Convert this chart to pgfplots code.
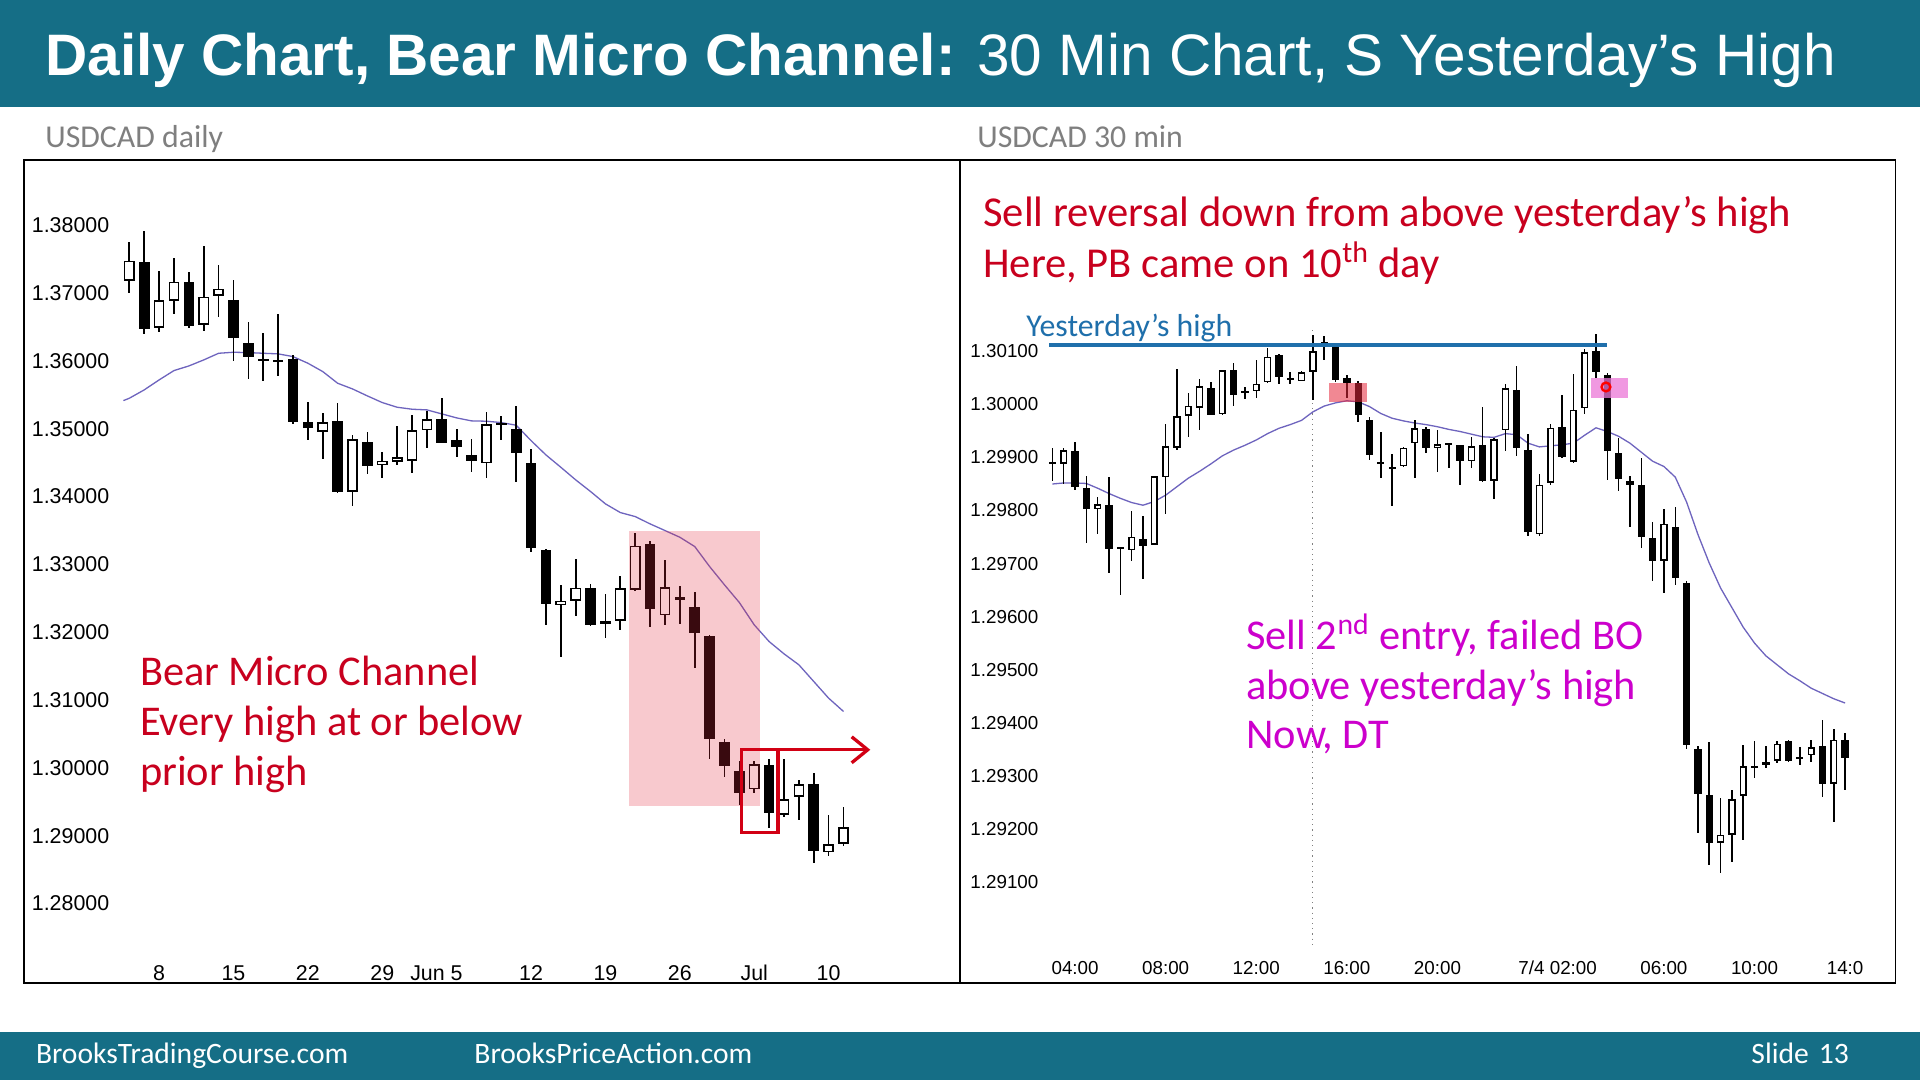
\documentclass[border=0pt]{standalone}
\usepackage{fontspec}
\setmainfont{Carlito}
\newfontfamily\arial{Liberation Sans}
\usepackage{pgfplots}
\pgfplotsset{compat=1.18}
\usepackage{pgfplotstable}
\usetikzlibrary{arrows.meta}

\definecolor{teal1}{HTML}{156E86}
\definecolor{annred}{HTML}{C8001E}
\definecolor{annmag}{HTML}{CC00CC}
\definecolor{yhblue}{HTML}{1F6FAB}
\definecolor{maline}{HTML}{6E64BE}
\definecolor{boxred}{HTML}{D20014}
\definecolor{pinkred}{HTML}{E6283C}
\definecolor{orchidc}{HTML}{EB78D7}
\definecolor{gray50}{HTML}{7F7F7F}

\pgfplotstableread{
x O H L C
1 1.37464 1.37921 1.36398 1.36467
4 1.37160 1.37307 1.36482 1.36521
7 1.36904 1.37199 1.36005 1.36339
8 1.36266 1.36575 1.35740 1.36054
9 1.36025 1.36408 1.35705 1.36000
10 1.36010 1.36688 1.35779 1.35985
11 1.36025 1.36084 1.35072 1.35101
12 1.35101 1.35391 1.34836 1.35008
14 1.35121 1.35386 1.34049 1.34064
16 1.34801 1.34958 1.34330 1.34457
21 1.35145 1.35450 1.34796 1.34796
22 1.34836 1.34998 1.34590 1.34723
23 1.34610 1.34846 1.34369 1.34526
25 1.35091 1.35194 1.34836 1.35057
26 1.34993 1.35342 1.34221 1.34639
27 1.34491 1.34698 1.33189 1.33238
28 1.33214 1.33230 1.32108 1.32418
31 1.32658 1.32713 1.32098 1.32108
35 1.33303 1.33351 1.32084 1.32349
37 1.32526 1.32683 1.32123 1.32477
38 1.32379 1.32600 1.31470 1.31985
39 1.31946 1.31961 1.30128 1.30423
40 1.30388 1.30423 1.29863 1.30030
41 1.29961 1.30094 1.29455 1.29627
43 1.30045 1.30133 1.29111 1.29332
46 1.29760 1.29922 1.28595 1.28767
}\dailybear

\pgfplotstableread{
x O H L C
0 1.37180 1.37749 1.36998 1.37479
2 1.36491 1.37327 1.36423 1.36899
3 1.36890 1.37518 1.36693 1.37170
5 1.36531 1.37695 1.36447 1.36948
6 1.36958 1.37410 1.36644 1.37066
13 1.34959 1.35239 1.34551 1.35096
15 1.34074 1.34909 1.33868 1.34845
17 1.34467 1.34654 1.34271 1.34531
18 1.34516 1.35047 1.34467 1.34580
19 1.34531 1.35204 1.34344 1.34978
20 1.34983 1.35263 1.34713 1.35140
24 1.34492 1.35248 1.34271 1.35067
29 1.32398 1.32698 1.31641 1.32467
30 1.32462 1.33076 1.32241 1.32658
32 1.32128 1.32560 1.31912 1.32167
33 1.32167 1.32835 1.32035 1.32649
34 1.32624 1.33459 1.32614 1.33278
36 1.32251 1.33066 1.32108 1.32664
42 1.29686 1.30104 1.29637 1.30055
44 1.29308 1.30133 1.29283 1.29539
45 1.29578 1.29823 1.29224 1.29760
47 1.28752 1.29308 1.28693 1.28875
48 1.28880 1.29430 1.28841 1.29121
}\dailybull

\pgfplotstableread{
x v
-0.4 1.35415
0 1.35450
1 1.35573
2 1.35720
3 1.35858
4 1.35926
5 1.36015
6 1.36113
7 1.36128
8 1.36123
9 1.36113
10 1.36104
11 1.36064
12 1.35966
13 1.35843
14 1.35671
15 1.35587
16 1.35484
17 1.35386
18 1.35317
19 1.35288
20 1.35278
21 1.35219
22 1.35160
23 1.35116
24 1.35111
25 1.35091
26 1.35052
27 1.34825
28 1.34614
29 1.34432
30 1.34246
31 1.34074
32 1.33892
33 1.33764
34 1.33705
35 1.33597
36 1.33499
37 1.33400
38 1.33263
39 1.32968
40 1.32698
41 1.32437
42 1.32108
43 1.31862
44 1.31681
45 1.31519
46 1.31273
47 1.31027
48 1.30831
}\dailyma

\pgfplotstableread{
x O H L C
-1.0 1.29893 1.29919 1.29858 1.29889
0.0 1.29914 1.29930 1.29840 1.29845
0.5 1.29843 1.29866 1.29740 1.29804
1.5 1.29810 1.29864 1.29682 1.29727
2.0 1.29731 1.29731 1.29641 1.29727
3.0 1.29746 1.29790 1.29672 1.29734
6.0 1.30032 1.30043 1.29981 1.29981
7.0 1.30065 1.30079 1.29999 1.30018
7.5 1.30026 1.30034 1.30012 1.30022
9.0 1.30094 1.30096 1.30041 1.30052
9.5 1.30050 1.30062 1.30041 1.30046
11.5 1.30109 1.30109 1.30043 1.30046
12.0 1.30050 1.30057 1.30012 1.30041
12.5 1.30040 1.30045 1.29968 1.29980
13.0 1.29972 1.29976 1.29895 1.29905
13.5 1.29891 1.29949 1.29862 1.29887
14.0 1.29883 1.29909 1.29810 1.29879
15.5 1.29953 1.29958 1.29909 1.29917
16.5 1.29929 1.29929 1.29881 1.29925
17.0 1.29924 1.29924 1.29850 1.29894
18.0 1.29924 1.29996 1.29854 1.29856
19.5 1.30029 1.30073 1.29903 1.29919
20.0 1.29915 1.29944 1.29752 1.29760
21.5 1.29958 1.30019 1.29900 1.29900
23.0 1.30102 1.30134 1.30051 1.30062
23.5 1.30057 1.30059 1.29857 1.29913
24.0 1.29909 1.29938 1.29839 1.29861
24.5 1.29857 1.29866 1.29770 1.29849
25.0 1.29848 1.29900 1.29731 1.29750
25.5 1.29748 1.29779 1.29668 1.29705
26.5 1.29770 1.29808 1.29661 1.29673
27.0 1.29663 1.29669 1.29351 1.29358
27.5 1.29351 1.29356 1.29193 1.29267
28.0 1.29265 1.29364 1.29132 1.29174
30.0 1.29320 1.29366 1.29297 1.29316
30.5 1.29325 1.29356 1.29314 1.29321
31.5 1.29366 1.29368 1.29327 1.29329
33.0 1.29356 1.29406 1.29260 1.29285
34.0 1.29368 1.29381 1.29274 1.29334
}\minbear

\pgfplotstableread{
x O H L C
-0.5 1.29889 1.29919 1.29851 1.29915
1.0 1.29802 1.29827 1.29757 1.29812
2.5 1.29725 1.29800 1.29704 1.29751
3.5 1.29736 1.29866 1.29735 1.29865
4.0 1.29864 1.29964 1.29793 1.29922
4.5 1.29920 1.30066 1.29914 1.29979
5.0 1.29980 1.30022 1.29940 1.29999
5.5 1.29994 1.30049 1.29953 1.30034
6.5 1.29983 1.30066 1.29982 1.30066
8.0 1.30025 1.30084 1.30013 1.30040
8.5 1.30042 1.30108 1.30042 1.30090
10.0 1.30045 1.30065 1.30045 1.30062
10.5 1.30062 1.30133 1.30010 1.30101
11.0 1.30115 1.30129 1.30084 1.30118
14.5 1.29884 1.29920 1.29884 1.29919
15.0 1.29927 1.29971 1.29862 1.29955
16.0 1.29920 1.29951 1.29873 1.29927
17.5 1.29894 1.29939 1.29881 1.29922
18.5 1.29857 1.29938 1.29823 1.29935
19.0 1.29952 1.30039 1.29913 1.30031
20.5 1.29756 1.29868 1.29752 1.29849
21.0 1.29853 1.29964 1.29849 1.29957
22.0 1.29893 1.30059 1.29891 1.29991
22.5 1.29994 1.30105 1.29983 1.30100
26.0 1.29705 1.29802 1.29644 1.29775
28.5 1.29174 1.29258 1.29116 1.29189
29.0 1.29189 1.29274 1.29139 1.29257
29.5 1.29262 1.29358 1.29179 1.29318
31.0 1.29329 1.29366 1.29324 1.29361
32.0 1.29332 1.29354 1.29321 1.29337
32.5 1.29339 1.29368 1.29327 1.29354
33.5 1.29285 1.29388 1.29213 1.29368
}\minbull

\pgfplotstableread{
x v
-1.0 1.29850
-0.5 1.29852
0.0 1.29852
0.5 1.29851
1.0 1.29842
1.5 1.29832
2.0 1.29823
2.5 1.29815
3.0 1.29810
3.5 1.29817
4.0 1.29829
4.5 1.29845
5.0 1.29861
5.5 1.29874
6.0 1.29888
6.5 1.29903
7.0 1.29914
7.5 1.29923
8.0 1.29933
8.5 1.29945
9.0 1.29955
9.5 1.29962
10.0 1.29970
10.5 1.29986
11.0 1.29997
11.5 1.30003
12.0 1.30007
12.5 1.30005
13.0 1.29996
13.5 1.29983
14.0 1.29974
14.5 1.29969
15.0 1.29965
15.5 1.29962
16.0 1.29958
16.5 1.29953
17.0 1.29949
17.5 1.29944
18.0 1.29939
18.5 1.29938
19.0 1.29945
19.5 1.29943
20.0 1.29927
20.5 1.29920
21.0 1.29922
21.5 1.29924
22.0 1.29927
22.5 1.29942
23.0 1.29956
23.5 1.29949
24.0 1.29940
24.5 1.29927
25.0 1.29910
25.5 1.29893
26.0 1.29883
26.5 1.29863
27.0 1.29816
27.5 1.29755
28.0 1.29701
28.5 1.29654
29.0 1.29617
29.5 1.29580
30.0 1.29550
30.5 1.29526
31.0 1.29509
31.5 1.29492
32.0 1.29479
32.5 1.29465
33.0 1.29455
33.5 1.29445
34.0 1.29437
}\minma

% #1 bear table, #2 bull table, #3 wick width, #4 body width, #5 inner width, #6 outline (data units)
\newcommand{\candles}[6]{%
  \addplot[draw=none, mark=none, forget plot, error bars/.cd, y dir=both, y explicit, error mark=none,
    error bar style={draw=black, line width=#3, line cap=butt}]
    table[x=x, y expr={(\thisrow{H}+\thisrow{L})/2}, y error expr={(\thisrow{H}-\thisrow{L})/2}] {#1};
  \addplot[draw=none, mark=none, forget plot, error bars/.cd, y dir=both, y explicit, error mark=none,
    error bar style={draw=black, line width=#3, line cap=butt}]
    table[x=x, y expr={(\thisrow{H}+\thisrow{L})/2}, y error expr={(\thisrow{H}-\thisrow{L})/2}] {#2};
  \addplot[draw=none, mark=none, forget plot, error bars/.cd, y dir=both, y explicit, error mark=none,
    error bar style={draw=black, line width=#4, line cap=butt}]
    table[x=x, y expr={(\thisrow{O}+\thisrow{C})/2}, y error expr={abs(\thisrow{O}-\thisrow{C})/2}] {#1};
  \addplot[draw=none, mark=none, forget plot, error bars/.cd, y dir=both, y explicit, error mark=none,
    error bar style={draw=black, line width=#4, line cap=butt}]
    table[x=x, y expr={(\thisrow{O}+\thisrow{C})/2}, y error expr={abs(\thisrow{O}-\thisrow{C})/2}] {#2};
  \addplot[draw=none, mark=none, forget plot, error bars/.cd, y dir=both, y explicit, error mark=none,
    error bar style={draw=white, line width=#5, line cap=butt}]
    table[x=x, y expr={(\thisrow{O}+\thisrow{C})/2}, y error expr={max(abs(\thisrow{O}-\thisrow{C})/2-#6,0)}] {#2};
}

\begin{document}
\begin{tikzpicture}
\path[use as bounding box] (0,0) rectangle (960pt,-540pt);
\fill[white] (0,0) rectangle (960pt,-540pt);
\fill[teal1] (0,0) rectangle (960pt,-53.5pt);
\fill[teal1] (0,-516pt) rectangle (960pt,-540pt);

\node[anchor=base west, inner sep=0pt, text=white, font=\arial\bfseries\fontsize{29.25}{34}\selectfont]
  at (22.5pt,-38pt) {Daily Chart, Bear Micro Channel: {\mdseries 30 Min Chart, S Yesterday’s High}};

\node[anchor=base west, inner sep=0pt, text=gray50, font=\fontsize{15.9}{18}\selectfont] at (22.5pt,-74pt) {USDCAD daily};
\node[anchor=base west, inner sep=0pt, text=gray50, font=\fontsize{15.9}{18}\selectfont] at (488.5pt,-74pt) {USDCAD 30 min};

\node[anchor=base west, inner sep=0pt, text=white, font=\fontsize{14.8}{18}\selectfont] at (17.8pt,-531.5pt) {BrooksTradingCourse.com};
\node[anchor=base west, inner sep=0pt, text=white, font=\fontsize{14.8}{18}\selectfont] at (237pt,-531.5pt) {BrooksPriceAction.com};
\node[anchor=base west, inner sep=0pt, text=white, font=\fontsize{14.8}{18}\selectfont] at (875.5pt,-531.5pt) {Slide\hspace{5pt}13};

% ---------------- Left: daily ----------------
\begin{axis}[
  at={(12pt,-491.5pt)}, anchor=south west,
  scale only axis, width=468pt, height=411.5pt,
  xmin=-7.08, xmax=55.83, ymin=1.26827, ymax=1.38963,
  axis line style={black, line width=0.7pt},
  major tick length=0pt,
  xtick={2,7,12,17,22,27,32,37,42,47},
  xticklabels={8,15,22,29,\makebox[0pt][r]{Jun }5,12,19,26,Jul,10},
  ytick={1.28,1.29,1.30,1.31,1.32,1.33,1.34,1.35,1.36,1.37,1.38},
  scaled y ticks=false,
  yticklabel style={/pgf/number format/fixed, /pgf/number format/fixed zerofill, /pgf/number format/precision=5},
  yticklabel style={anchor=west, inner sep=0pt, xshift=3.75pt},
  xticklabel style={anchor=base, inner sep=0pt, yshift=1.5pt},
  tick label style={font=\arial\fontsize{10.7}{12}\selectfont},
  /pgf/number format/assume math mode=true,
]
\addplot[maline, line width=0.65pt, mark=none] table[x=x, y=v] {\dailyma};
\candles{\dailybear}{\dailybull}{0.85pt}{5.35pt}{3.85pt}{0.00022}
\addplot[draw=none, fill=pinkred, fill opacity=0.25, forget plot] coordinates {(33.55,1.29430) (42.4,1.29430) (42.4,1.33499) (33.55,1.33499)} -- cycle;
\addplot[boxred, line width=1.65pt, mark=none] coordinates {(41.16,1.29047) (43.6,1.29047) (43.6,1.30266) (41.16,1.30266)} -- cycle;
\addplot[boxred, line width=1.65pt, mark=none, -{Straight Barb[length=8pt, width=13pt, line width=1.65pt]}] coordinates {(43.6,1.30266) (49.8,1.30266)};
\end{axis}

% ---------------- Right: 30 min ----------------
\begin{axis}[
  at={(480pt,-491.5pt)}, anchor=south west,
  scale only axis, width=467.8pt, height=411.5pt,
  xmin=-5.08, xmax=36.23, ymin=1.28909, ymax=1.30461,
  axis line style={black, line width=0.7pt},
  major tick length=0pt,
  xtick={0,4,8,12,16,22,26,30,34},
  xticklabels={04:00,08:00,12:00,16:00,20:00,\makebox[0pt][r]{7/4 }02:00,06:00,10:00,14:0},
  ytick={1.291,1.292,1.293,1.294,1.295,1.296,1.297,1.298,1.299,1.300,1.301},
  scaled y ticks=false,
  yticklabel style={/pgf/number format/fixed, /pgf/number format/fixed zerofill, /pgf/number format/precision=5},
  yticklabel style={anchor=west, inner sep=0pt, xshift=5pt},
  xticklabel style={anchor=base, inner sep=0pt, yshift=4.5pt},
  tick label style={font=\arial\fontsize{9.4}{11}\selectfont},
  /pgf/number format/assume math mode=true,
]
\addplot[gray, dotted, line width=0.6pt, mark=none] coordinates {(10.5,1.30140) (10.5,1.28979)};
\addplot[maline, line width=0.65pt, mark=none] table[x=x, y=v] {\minma};
\candles{\minbear}{\minbull}{0.75pt}{3.65pt}{2.15pt}{0.00003}
\addplot[yhblue, line width=2pt, mark=none] coordinates {(-1.13,1.30112) (23.5,1.30112)};
\addplot[draw=none, fill=pinkred, fill opacity=0.55, forget plot] coordinates {(11.21,1.30005) (12.87,1.30005) (12.87,1.30041) (11.21,1.30041)} -- cycle;
\addplot[draw=none, fill=orchidc, fill opacity=0.75, forget plot] coordinates {(22.76,1.30013) (24.40,1.30013) (24.40,1.30050) (22.76,1.30050)} -- cycle;
\addplot[only marks, mark=o, mark size=2.2pt, mark options={draw=red, line width=1.2pt, fill=white}] coordinates {(23.44,1.30033)};
\end{axis}

% annotations
\node[anchor=base west, inner sep=0pt, text=annred, font=\fontsize{21.2}{25}\selectfont] at (69.8pt,-342.5pt) {Bear Micro Channel};
\node[anchor=base west, inner sep=0pt, text=annred, font=\fontsize{21.2}{25}\selectfont] at (69.8pt,-367.5pt) {Every high at or below};
\node[anchor=base west, inner sep=0pt, text=annred, font=\fontsize{21.2}{25}\selectfont] at (69.8pt,-392.5pt) {prior high};

\node[anchor=base west, inner sep=0pt, text=annred, font=\fontsize{21.3}{25}\selectfont] at (491.5pt,-113.4pt) {Sell reversal down from above yesterday’s high};
\node[anchor=base west, inner sep=0pt, text=annred, font=\fontsize{21.3}{25}\selectfont] at (491.5pt,-138.7pt) {Here, PB came on 10\textsuperscript{th} day};

\node[anchor=base west, inner sep=0pt, text=yhblue, font=\fontsize{15.9}{18}\selectfont] at (513pt,-168.4pt) {Yesterday’s high};

\node[anchor=base west, inner sep=0pt, text=annmag, font=\fontsize{21.2}{25}\selectfont] at (623pt,-324.7pt) {Sell 2\textsuperscript{nd} entry, failed BO};
\node[anchor=base west, inner sep=0pt, text=annmag, font=\fontsize{21.2}{25}\selectfont] at (623pt,-349.7pt) {above yesterday’s high};
\node[anchor=base west, inner sep=0pt, text=annmag, font=\fontsize{21.2}{25}\selectfont] at (623pt,-374.2pt) {Now, DT};
\end{tikzpicture}
\end{document}
